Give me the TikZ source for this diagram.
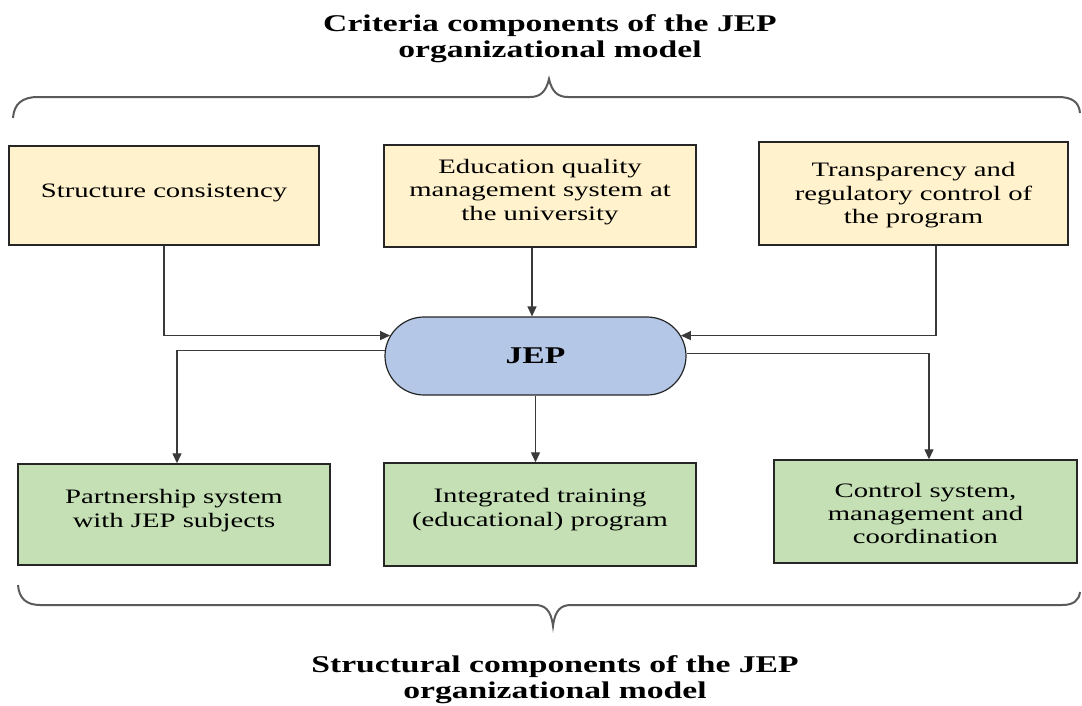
\documentclass[tikz,border=0pt]{standalone}
\usepackage{fontspec}
\setmainfont{Liberation Serif}[FakeStretch=1.4]
\usetikzlibrary{arrows.meta,shapes.misc,calc}
\definecolor{ybox}{HTML}{FFF2CC}
\definecolor{gbox}{HTML}{C5E0B4}
\definecolor{bjep}{HTML}{B4C7E7}
\definecolor{edge}{HTML}{262626}
\definecolor{conn}{HTML}{3A3A3A}
\definecolor{brc}{HTML}{5A5A5A}
\tikzset{
  boxbase/.style={draw=edge, line width=1.4pt, rectangle, inner sep=0pt},
  yellowbox/.style={boxbase, fill=ybox},
  greenbox/.style={boxbase, fill=gbox},
  btxt/.style={align=center, font=\fontsize{20.5pt}{23.3pt}\selectfont, inner sep=0pt},
  ttl/.style={align=center, font=\fontsize{24pt}{26pt}\selectfont\bfseries, inner sep=0pt},
  jepnode/.style={draw=edge, line width=1.2pt, fill=bjep, rounded rectangle, minimum width=301pt, minimum height=78pt, inner sep=0pt, font=\fontsize{24pt}{26pt}\selectfont\bfseries},
  arr/.style={draw=conn, line width=1.3pt, -{Triangle[length=10pt,width=9pt]}},
  bracepath/.style={draw=brc, line width=2pt}
}
\begin{document}
\begin{tikzpicture}[x=1pt,y=-1pt]
\useasboundingbox (0,0) rectangle (1082,705);
% titles
\node[ttl] (toptitle) at (550,39) {Criteria components of the JEP\\organizational model};
\node[ttl] (bottitle) at (555,680) {Structural components of the JEP\\organizational model};
% braces
\draw[bracepath] (13,118) .. controls (14,104) and (22,97) .. (38,97) -- (530,97) .. controls (540,97) and (546,92) .. (549,79) .. controls (552,92) and (558,97) .. (568,97) -- (1058,97) .. controls (1072,97) and (1079,102) .. (1080,113);
\draw[bracepath] (18,585) .. controls (19,598) and (26,605) .. (40,605) -- (535,605) .. controls (545,605) and (551,610) .. (553,626) .. controls (555,610) and (561,605) .. (571,605) -- (1062,605) .. controls (1074,605) and (1079,600) .. (1080,592);
% top boxes
\node[yellowbox, minimum width=310pt, minimum height=99pt] (b1) at (164,195.5) {};
\node[btxt] (t1) at ([yshift=3pt]b1.center) {Structure consistency};
\node[yellowbox, minimum width=312pt, minimum height=102pt] (b2) at (540,196) {};
\node[btxt] (t2) at ([yshift=4pt]b2.center) {Education quality\\management system at\\the university};
\node[yellowbox, minimum width=309pt, minimum height=103pt] (b3) at (913.5,193.5) {};
\node[btxt] (t3) at ([yshift=-1.8pt]b3.center) {Transparency and\\regulatory control of\\the program};
% JEP
\node[jepnode] (jep) at (535.5,356) {JEP};
% bottom boxes
\node[greenbox, minimum width=312pt, minimum height=101pt] (b4) at (174,514.5) {};
\node[btxt] (t4) at ([yshift=4pt]b4.center) {Partnership system\\with JEP subjects};
\node[greenbox, minimum width=312pt, minimum height=103pt] (b5) at (540,514.5) {};
\node[btxt] (t5) at ([yshift=5pt]b5.center) {Integrated training\\(educational) program};
\node[greenbox, minimum width=303pt, minimum height=103pt] (b6) at (925.5,511.5) {};
\node[btxt] (t6) at ([yshift=-1.8pt]b6.center) {Control system,\\management and\\coordination};
% connectors
\draw[arr] (b1.south) |- (jep.172.5);
\draw[arr] ([xshift=-8pt]b2.south) -- ([xshift=-8pt]b2.south |- jep.north);
\draw[arr] ([xshift=22.5pt]b3.south) |- (jep.8.7);
\draw[arr] (jep.178.9) -| ([xshift=3pt]b4.north);
\draw[arr] (jep.south) -- (jep.south |- b5.north);
\draw[arr] (jep.1.4) -| ([xshift=3.5pt]b6.north);
\end{tikzpicture}
\end{document}
